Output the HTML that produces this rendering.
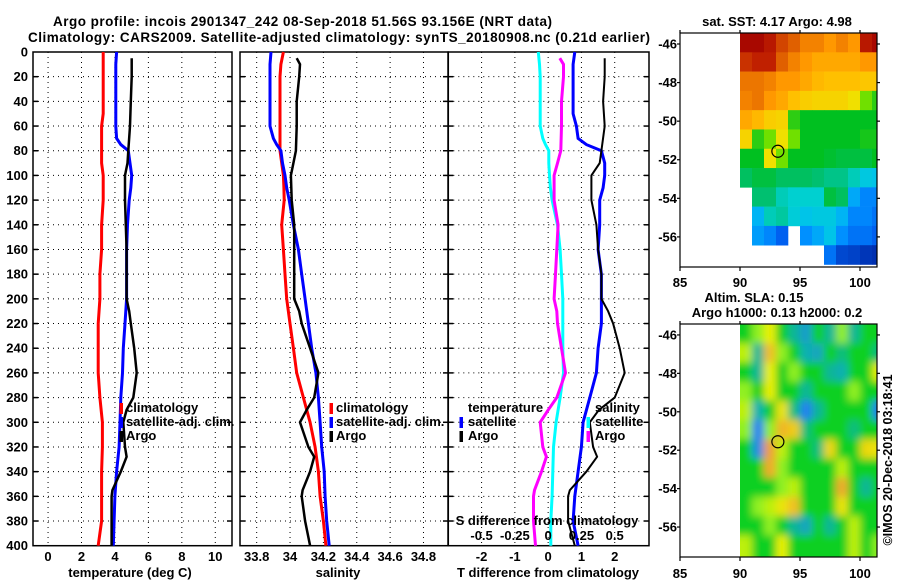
<!DOCTYPE html>
<html><head><meta charset="utf-8"><style>
html,body{margin:0;padding:0;background:#fff;}
svg{display:block;font-family:"Liberation Sans",sans-serif;font-weight:bold;}
</style></head><body>
<svg id="chart" width="900" height="580" viewBox="0 0 900 580" xmlns="http://www.w3.org/2000/svg">
<defs>
<clipPath id="sstClip"><rect x="680" y="33" width="197" height="234"/></clipPath>
<clipPath id="slaClip"><rect x="740" y="324" width="137" height="233"/></clipPath>
<filter id="blur" x="-10%" y="-10%" width="120%" height="120%"><feGaussianBlur stdDeviation="4"/></filter>
</defs>
<text x="53" y="26" textLength="499" font-size="13.5">Argo profile: incois 2901347_242 08-Sep-2018 51.56S 93.156E (NRT data)</text>
<text x="28" y="42" textLength="622" font-size="13.5">Climatology: CARS2009. Satellite-adjusted climatology: synTS_20180908.nc (0.21d earlier)</text>
<g id="g"></g>
</svg>
<script>
// ---- profile data ----
const depth = [0,10,20,30,40,50,60,70,75,80,90,100,110,120,140,160,180,200,220,240,260,280,300,320,340,360,380,400];
const tempClim = [3.3,3.3,3.3,3.3,3.3,3.3,3.2,3.2,3.2,3.2,3.2,3.3,3.3,3.3,3.2,3.2,3.1,3.1,3.0,3.0,3.0,3.1,3.25,3.25,3.2,3.2,3.2,3.0];
const tempSat = [4.1,4.05,4.05,4.05,4.05,4.05,4.05,4.1,4.35,4.8,4.9,5.0,4.95,4.85,4.75,4.7,4.7,4.7,4.6,4.5,4.45,4.35,4.3,4.25,4.1,4.0,3.95,3.9];
const salClim = [33.96,33.945,33.94,33.94,33.94,33.94,33.94,33.94,33.94,33.94,33.95,33.96,33.963,33.965,33.95,33.96,33.97,33.98,34.0,34.02,34.04,34.08,34.12,34.15,34.17,34.18,34.2,34.215];
const salSat = [33.886,33.88,33.88,33.88,33.88,33.88,33.88,33.9,33.92,33.945,33.955,33.97,33.98,33.995,34.02,34.05,34.07,34.09,34.11,34.13,34.155,34.17,34.18,34.19,34.205,34.21,34.22,34.235];
const argoDepth = [5,10,20,40,60,80,90,100,120,140,160,180,200,210,220,240,260,280,290,300,320,328,340,355,360,380,400];
const argoTemp = [5.0,5.0,5.0,4.95,4.9,4.8,4.75,4.6,4.6,4.65,4.7,4.7,4.7,4.85,4.95,5.15,5.3,5.1,4.7,4.5,4.6,4.7,4.35,3.85,3.8,3.8,3.8];
const argoSal = [34.04,34.06,34.055,34.04,34.04,34.035,34.02,34.005,34.01,34.025,34.025,34.025,34.025,34.055,34.07,34.12,34.17,34.145,34.1,34.06,34.11,34.145,34.12,34.075,34.07,34.09,34.12];
const depthTicks = [0,20,40,60,80,100,120,140,160,180,200,220,240,260,280,300,320,340,360,380,400];
const tempTicks = [0,2,4,6,8,10];
const salTicks = [33.8,34,34.2,34.4,34.6,34.8];
const salTickLabels = ["33.8","34","34.2","34.4","34.6","34.8"];
const tdiffTicks = [-2,-1,0,1,2];
const sdiffTicks = [-0.5,-0.25,0,0.25,0.5];
const sdiffTickLabels = ["-0.5","-0.25","0","0.25","0.5"];
// ---- map data ----
const lonTicks = [85,90,95,100];
const latTicks = [-46,-48,-50,-52,-54,-56];
const argoLon = 93.156, argoLat = -51.56;
const sstGrid = [
[8.5,8.5,8.3,7.8,7.5,7.2,7.2,7.0,7.2,7.0,8.3,8.5],
[8,8.2,8.2,7.5,7.2,7,6.8,6.8,6.8,6.8,7,7],
[7.3,7.3,7.2,7,7,6.8,6.6,6.5,6.5,6.5,6.4,6.4],
[7.2,7.3,7,6.8,6.5,6.3,6.2,6.2,6.2,6,5.5,5.2],
[6.8,6.6,6.3,6.2,5.2,5,5,5,5,5,5,5],
[6.2,5.2,5.5,6,5.5,5,5,5,5,5,5.1,5.1],
[5,5,6,5.5,5,5,5,4.9,4.8,4.8,4.8,5],
[4.6,4.8,4.8,4.6,4.6,4.6,4.5,4.4,4.4,4.2,3.9,3.8],
[null,4.5,4.5,4.2,4.1,4.1,4.1,4.8,4.6,3.5,3.2,3.2],
[null,3.6,4.2,4.3,4,3.8,3.9,3.9,3.6,3.2,3.2,3],
[null,3.4,3.2,2.8,null,3.3,3.5,3.8,3.3,3,3,2.8],
[null,null,null,null,null,null,null,3.0,2.4,2.3,2.1,2]];
const slaGrid = [
[0,0.2,0.4,0,-0.3,-0.6,0,-0.3,0.2,-0.3,0,0],
[0.3,-0.3,0.8,0.2,0,-0.4,-0.5,0,-0.2,0,0,-0.2],
[0,-0.3,0.4,0,0.2,0,0,-0.3,-0.4,0,0,0.4],
[0.2,0,0.4,0,0,-0.3,0,0,0,0.2,0,0],
[0.3,-0.4,0,0.5,-0.2,-1.2,-0.3,0,0,0,0,-0.9],
[0.2,-1.0,0.2,0.9,0.7,-0.2,0,0,0,-0.2,0,0],
[0,-0.8,1.2,0.3,0,0,-0.2,0.6,0,0,0.6,0.5],
[0,0,1.0,0.2,0,0,0,0,0.3,0,0,0],
[0,0,0,0.2,0.3,0,0,0,1.0,0,-0.3,0],
[0,0.2,0.3,0.5,0.8,0,0,0,0.5,0,0,0],
[0,0,0.2,0,-0.3,-0.5,0,-0.3,0,0.3,0,0],
[0.3,0,0,0.4,0,0,0,0,0,0.3,0,0.2]];

const NS='http://www.w3.org/2000/svg';
const root=document.getElementById('g');
function el(tag,attrs,parent){const e=document.createElementNS(NS,tag);for(const k in attrs)e.setAttribute(k,attrs[k]);(parent||root).appendChild(e);return e;}
function txt(x,y,s,anchor,size,parent){const t=el('text',{x:x,y:y,'text-anchor':anchor||'start','font-size':size||13},parent);t.textContent=s;return t;}

const Y0=52, Y1=545.7;
const yD=d=>Y0+(d)*(Y1-Y0)/400;
function interp(d){
  for(let i=0;i<depth.length-1;i++){if(d>=depth[i]&&d<=depth[i+1])return [i,(d-depth[i])/(depth[i+1]-depth[i])];}
  return [depth.length-2,1];
}
function climAt(arr,d){const [i,f]=interp(d);return arr[i]+(arr[i+1]-arr[i])*f;}

function panel(name,x0,x1,vmin,vmax,gridVals){
  const g=el('g',{});
  
  
  const sx=v=>x0+(v-vmin)*(x1-x0)/(vmax-vmin);
  gridVals.forEach(v=>{const l=el('line',{x1:sx(v),x2:sx(v),y1:Y0,y2:Y1,stroke:'#000','stroke-width':1,'stroke-dasharray':'1,4'},g);
    });
  depthTicks.forEach(d=>{if(d===0||d===400)return;const l=el('line',{x1:x0,x2:x1,y1:yD(d),y2:yD(d),stroke:'#000','stroke-width':1,'stroke-dasharray':'1,4'},g);
    
    el('line',{x1:x0,x2:x0+5,y1:yD(d),y2:yD(d),stroke:'#000','stroke-width':1.5},g);
    el('line',{x1:x1-5,x2:x1,y1:yD(d),y2:yD(d),stroke:'#000','stroke-width':1.5},g);});
  const fr=el('rect',{x:x0,y:Y0,width:x1-x0,height:Y1-Y0,fill:'none',stroke:'#000','stroke-width':1.5},g);
  
  return {g,sx};
}
function line(g,sx,vals,ds,color,w,name){
  const pts=vals.map((v,i)=>sx(v).toFixed(1)+','+yD(ds[i]).toFixed(1)).join(' ');
  const p=el('polyline',{points:pts,fill:'none',stroke:color,'stroke-width':w,'stroke-linejoin':'miter'},g);
  
  return p;
}
function legMark(g,x,y,color,name){const r=el('rect',{x:x,y:y-10,width:3.5,height:11,fill:color},g);}

depthTicks.forEach(d=>{const t=txt(28,yD(d)+4.5,String(d),'end');});

const P1=panel('temperature-panel',33,232,-0.9,11.0,tempTicks);
line(P1.g,P1.sx,tempClim,depth,'#ff0000',3,'temp-climatology-line');
line(P1.g,P1.sx,tempSat,depth,'#0000ff',3,'temp-satellite-line');
line(P1.g,P1.sx,argoTemp,argoDepth,'#000',2.5,'temp-argo-line');
tempTicks.forEach(v=>{const t=txt(P1.sx(v),561,String(v),'middle');});
{const t=txt(130,577,'temperature (deg C)','middle');}
legMark(P1.g,119.5,413,'#ff0000','legend-mark-climatology');legMark(P1.g,119.5,427,'#0000ff','legend-mark-satellite');legMark(P1.g,119.5,441,'#000','legend-mark-argo');
[['climatology',412],['satellite-adj. clim.',426],['Argo',440]].forEach(a=>{const t=txt(126,a[1],a[0],'start',13,P1.g);});

const P2=panel('salinity-panel',240,448,33.70,34.947,salTicks);
line(P2.g,P2.sx,salClim,depth,'#ff0000',3,'sal-climatology-line');
line(P2.g,P2.sx,salSat,depth,'#0000ff',3,'sal-satellite-line');
line(P2.g,P2.sx,argoSal,argoDepth,'#000',2.5,'sal-argo-line');
salTicks.forEach((v,i)=>{const t=txt(P2.sx(v),561,salTickLabels[i],'middle');});
{const t=txt(338,577,'salinity','middle');}
legMark(P2.g,329.5,413,'#ff0000','legend-mark-climatology');legMark(P2.g,329.5,427,'#0000ff','legend-mark-satellite');legMark(P2.g,329.5,441,'#000','legend-mark-argo');
[['climatology',412],['satellite-adj. clim.',426],['Argo',440]].forEach(a=>{const t=txt(336,a[1],a[0],'start',13,P2.g);});

const P3=panel('difference-panel',448.3,649,-3.0,3.03,tdiffTicks);
const satTd=tempSat.map((v,i)=>v-tempClim[i]);
const satSd=salSat.map((v,i)=>(v-salClim[i])*4);
const argoTd=argoTemp.map((v,i)=>v-climAt(tempClim,argoDepth[i]));
const argoSd=argoSal.map((v,i)=>(v-climAt(salClim,argoDepth[i]))*4);
line(P3.g,P3.sx,satSd,depth,'#00ffff',3,'sdiff-satellite-line');
line(P3.g,P3.sx,argoSd,argoDepth,'#ff00ff',3,'sdiff-argo-line');
line(P3.g,P3.sx,satTd,depth,'#0000ff',3,'tdiff-satellite-line');
line(P3.g,P3.sx,argoTd,argoDepth,'#000',2,'tdiff-argo-line');
tdiffTicks.forEach(v=>{const t=txt(P3.sx(v),561,String(v),'middle');});
sdiffTicks.forEach((v,i)=>{const t=txt(P3.sx(v*4),540,sdiffTickLabels[i],'middle',13,P3.g);});
{const t=txt(547,525,'S difference from climatology','middle',13,P3.g);}
{const t=txt(548,577,'T difference from climatology','middle');}
{const t=txt(468,412,'temperature','start',13,P3.g);}
{const t=txt(595,412,'salinity','start',13,P3.g);}
legMark(P3.g,459.5,427,'#0000ff','legend-mark-t-satellite');legMark(P3.g,459.5,441,'#000','legend-mark-t-argo');
legMark(P3.g,586.5,427,'#00ffff','legend-mark-s-satellite');legMark(P3.g,586.5,441,'#ff00ff','legend-mark-s-argo');
[['satellite',468,426],['Argo',468,440],['satellite',595,426],['Argo',595,440]].forEach(a=>{const t=txt(a[1],a[2],a[0],'start',13,P3.g);});

function lerpColor(stops,v){
  if(v<=stops[0][0])return stops[0][1];
  for(let i=0;i<stops.length-1;i++){const a=stops[i],b=stops[i+1];if(v<=b[0]){const f=(v-a[0])/(b[0]-a[0]);
    const ca=a[1].match(/\w\w/g).map(h=>parseInt(h,16)),cb=b[1].match(/\w\w/g).map(h=>parseInt(h,16));
    return 'rgb('+ca.map((c,k)=>Math.round(c+(cb[k]-c)*f)).join(',')+')';}}
  return stops[stops.length-1][1];
}
const sstStops=[[2,'#0030b0'],[2.8,'#0060f0'],[3.3,'#0090ff'],[3.7,'#00c0f0'],[4.1,'#00d0d0'],[4.5,'#00c070'],[5,'#00c020'],[5.5,'#70e000'],[6,'#f0e000'],[6.5,'#ffc000'],[7,'#ff9800'],[7.5,'#e06000'],[8.2,'#c02000'],[8.6,'#a00000']];
const slaStops=[[-0.9,'#2080f0'],[-0.4,'#10b0b0'],[-0.15,'#10c070'],[0,'#10d020'],[0.2,'#90f020'],[0.4,'#e8f000'],[0.8,'#f0c020'],[1.1,'#f0a030']];

function mapFrame(name,y0,y1,latTop,latBot){
  const x0=680,x1=877;
  const sx=lon=>680+(lon-85)*12;
  const sy=lat=>y0+(latTop-lat)*(y1-y0)/(latTop-latBot);
  const g=el('g',{});
  
  return {g,sx,sy,x0,x1,y0,y1};
}
function mapAxes(M,labelY){
  const {g,sx,sy,x0,x1,y0,y1}=M;
  el('rect',{x:x0,y:y0,width:x1-x0,height:y1-y0,fill:'none',stroke:'#000','stroke-width':1.2},g);
  lonTicks.forEach(v=>{el('line',{x1:sx(v),x2:sx(v),y1:y1,y2:y1+4,stroke:'#000','stroke-width':1.2},g);el('line',{x1:sx(v),x2:sx(v),y1:y0,y2:y0-3,stroke:'#000','stroke-width':1.2},g);
    const t=txt(sx(v),labelY,String(v),'middle',13,g);});
  latTicks.forEach(v=>{el('line',{x1:x0-3,x2:x0,y1:sy(v),y2:sy(v),stroke:'#000','stroke-width':1.2},g);el('line',{x1:x1,x2:x1+3,y1:sy(v),y2:sy(v),stroke:'#000','stroke-width':1.2},g);
    const t=txt(677,sy(v)+4.5,String(v),'end',13,g);});
  const c=el('circle',{cx:sx(argoLon),cy:sy(argoLat),r:6,fill:'none',stroke:'#000','stroke-width':1.2},g);
  
}
const M1=mapFrame('sst-map',33,267,-45.43,-57.56);
{const cg=el('g',{'clip-path':'url(#sstClip)'},M1.g);
 sstGrid.forEach((row,r)=>row.forEach((v,c)=>{if(v===null)return;
   const la=-45.43-r, lo=90+c;
   const x=M1.sx(lo),y=M1.sy(la),w=12,h=M1.sy(la-1)-y;
   const rc=el('rect',{x:x,y:y,width:w+0.3,height:h+0.3,fill:lerpColor(sstStops,v)},cg);
   }));}
mapAxes(M1,287);
{const t=txt(777,26,'sat. SST: 4.17 Argo: 4.98','middle');}
const M2=mapFrame('sla-map',324,557,-45.43,-57.56);
{const cg=el('g',{'clip-path':'url(#slaClip)'},M2.g);
 el('rect',{x:740,y:324,width:137,height:233,fill:'#10d020'},cg);
 const bg=el('g',{filter:'url(#blur)'},cg);
 slaGrid.forEach((row,r)=>row.forEach((v,c)=>{
   const la=-45.43-r, lo=90+c;
   let x=M2.sx(lo),y=M2.sy(la),w=12,h=M2.sy(la-1)-y;
   if(c===0){x-=10;w+=10;} if(c===row.length-1){w+=12;} if(r===0){y-=10;h+=10;} if(r===slaGrid.length-1){h+=12;}
   const rc=el('rect',{x:x,y:y,width:w+0.3,height:h+0.3,fill:lerpColor(slaStops,v)},bg);
   }));}
mapAxes(M2,578);
{const t=txt(754,302,'Altim. SLA: 0.15','middle');}
{const t=txt(777,317,'Argo h1000: 0.13 h2000: 0.2','middle');}
{const t=txt(0,0,'©IMOS 20-Dec-2018 03:18:41','middle',12.5);t.setAttribute('transform','translate(892,460) rotate(-90)');}
</script>
</body></html>
